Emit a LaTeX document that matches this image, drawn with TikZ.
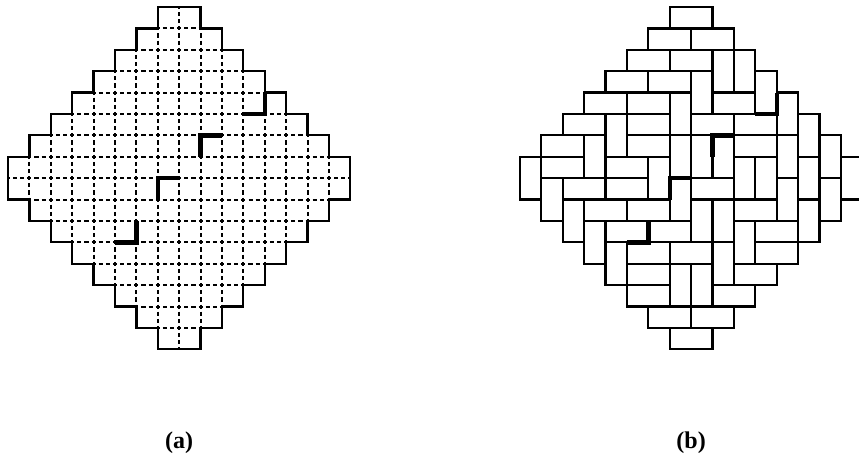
\documentclass[tikz,border=0pt]{standalone}
\usepackage{fontspec}
\setmainfont{Liberation Serif}
\usepackage{tikz}

\begin{document}
\begin{tikzpicture}[
        x=0.642cm, y=-0.642cm,
        outline/.style={line width=1.9pt, line join=miter},
        gridline/.style={line width=1.7pt, dash pattern=on 3.5pt off 2.59pt, dash phase=1.75pt},
        domino/.style={line width=1.9pt, line join=miter},
        heavy/.style={line width=3.8pt, line join=miter},
        panel/.style={font=\fontsize{20.5}{24}\selectfont\bfseries}
    ]
    % Page frame (859 x 471 px, one cell = 21.4 px)
    \useasboundingbox (-0.374,-0.327) rectangle (39.77,21.68);
    \clip (-0.374,-0.327) rectangle (39.77,21.68);

    % ---- (a): Aztec diamond with its square grid ----
    \begin{scope}
        \foreach \j in {1,...,15} {
            \pgfmathtruncatemacro{\h}{8-abs(8-\j)}
            \draw[gridline] ({8-\h},\j) -- ({8+\h},\j);
            \draw[gridline] (\j,{8-\h}) -- (\j,{8+\h});
        }
        \draw[outline] (7,0) -- (9,0)
            \foreach \r in {1,...,7} { |- ({9+\r},\r) } -- (16,9)
            \foreach \r in {1,...,7} { -| ({16-\r},{9+\r}) } -- (7,16)
            \foreach \r in {1,...,7} { |- ({7-\r},{16-\r}) } -- (0,7)
            \foreach \r in {1,...,7} { -| (\r,{7-\r}) } -- cycle;
        % marked corners
        \draw[heavy] (11,5) -- (12,5) -- (12,4);
        \draw[heavy] (10,6) -- (9,6) -- (9,7);
        \draw[heavy] (8,8) -- (7,8) -- (7,9);
        \draw[heavy] (5,11) -- (6,11) -- (6,10);
        \node[panel] (lbla) at (8,20.35) {(a)};
    \end{scope}

    % ---- (b): a domino tiling of the same diamond ----
    \begin{scope}[shift={(23.925,0)}]
        % horizontal dominoes (left cell / row)
        \foreach \i/\j in {7/0, 6/1, 8/1, 5/2, 7/2, 4/3, 6/3, 3/4, 5/4, 9/4,
                           2/5, 5/5, 8/5, 10/5, 1/6, 5/6, 10/6, 1/7, 4/7,
                           2/8, 4/8, 8/8, 3/9, 5/9, 10/9, 4/10, 6/10, 11/10,
                           5/11, 7/11, 11/11, 5/12, 10/12, 5/13, 9/13,
                           6/14, 8/14, 7/15}
            \draw[domino] (\i,\j) rectangle ++(2,1);
        % vertical dominoes (column / top row)
        \foreach \i/\j in {9/2, 10/2, 8/3, 11/3, 7/4, 12/4, 4/5, 13/5,
                           3/6, 7/6, 8/6, 9/6, 12/6, 14/6,
                           0/7, 6/7, 10/7, 11/7, 13/7, 15/7,
                           1/8, 7/8, 12/8, 14/8, 2/9, 8/9, 9/9, 13/9,
                           3/10, 10/10, 4/11, 9/11, 7/12, 8/12}
            \draw[domino] (\i,\j) rectangle ++(1,2);
        % marked corners
        \draw[heavy] (11,5) -- (12,5) -- (12,4);
        \draw[heavy] (10,6) -- (9,6) -- (9,7);
        \draw[heavy] (8,8) -- (7,8) -- (7,9);
        \draw[heavy] (5,11) -- (6,11) -- (6,10);
        \node[panel] (lblb) at (8,20.35) {(b)};
    \end{scope}
\end{tikzpicture}
\end{document}
